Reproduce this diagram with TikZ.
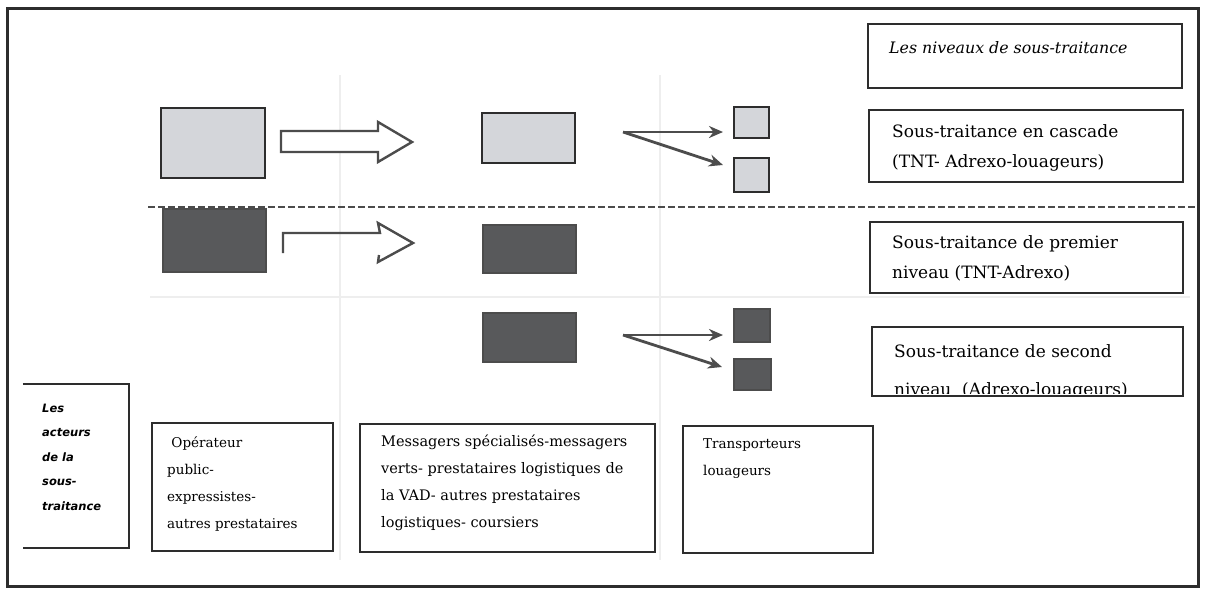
\documentclass[tikz,border=0pt]{standalone}
\usepackage{fontspec}
\setmainfont{DejaVu Serif}
\newfontfamily\actsans{DejaVu Sans}
\usetikzlibrary{arrows.meta}
\definecolor{ink}{RGB}{45,45,45}
\definecolor{paleblock}{RGB}{212,214,218}
\definecolor{darkblock}{RGB}{88,89,91}
\definecolor{gridgray}{RGB}{238,238,238}
\begin{document}
\begin{tikzpicture}[x=1pt,y=-1pt,
  outerframe/.style={draw=ink,line width=3pt},
  labelbox/.style={draw=ink,line width=2.2pt,fill=white,inner sep=0pt},
  pale/.style={draw=ink,line width=2pt,fill=paleblock,inner sep=0pt},
  darkbox/.style={draw=ink!85,line width=2pt,fill=darkblock,inner sep=0pt},
  fanarrow/.style={draw=ink!85,line width=2.8pt,-{Stealth[length=14pt,width=12pt]}},
  bigarrow/.style={draw=ink!85,line width=2.4pt,fill=white,line join=miter},
  openarrow/.style={draw=ink!85,line width=2.4pt,line join=miter},
  separator/.style={draw=ink!85,line width=2.8pt,dash pattern=on 7pt off 3pt},
  faint/.style={draw=gridgray,line width=1.5pt},
  txt/.style={anchor=base west,inner sep=0pt,align=left},
  levelfont/.style={font=\fontsize{17}{30}\selectfont},
  actorfont/.style={font=\fontsize{13.5}{27}\selectfont}]
\useasboundingbox (0,0) rectangle (1206,595);
\fill[white] (0,0) rectangle (1206,595);

% light table rules behind the diagram
\draw[faint] (340,75) -- (340,560);
\draw[faint] (660,75) -- (660,560);
\draw[faint] (150,297) -- (1190,297);

% outer frame
\draw[outerframe] (7,8) rectangle (1198,586);

% level captions on the right (multi-line labels are placed by their last baseline)
\node[labelbox,minimum width=314pt,minimum height=64pt] (r0) at (1025,56) {};
\node[txt,font=\itshape\fontsize{15.8}{18}\selectfont] (r0t) at (889,53) {Les niveaux de sous-traitance};

\node[labelbox,minimum width=314pt,minimum height=72pt] (r1) at (1026,146) {};
\node[txt,levelfont] (r1t) at (892,167) {Sous-traitance en cascade\\(TNT- Adrexo-louageurs)};

\node[labelbox,minimum width=313pt,minimum height=71pt] (r2) at (1026.5,257.5) {};
\node[txt,levelfont] (r2t) at (892,278) {Sous-traitance de premier\\niveau (TNT-Adrexo)};

\node[labelbox,minimum width=311pt,minimum height=69pt] (r3) at (1027.5,361.5) {};
\begin{scope}
  \clip (873,328) rectangle (1182,393);
  \node[txt,font=\fontsize{17}{38}\selectfont] (r3t) at (894,395) {Sous-traitance de second\\niveau \ (Adrexo-louageurs)};
\end{scope}

% cascade row
\node[pale,minimum width=104pt,minimum height=70pt] (a1) at (213,143) {};
\node[pale,minimum width=93pt,minimum height=50pt] (b1) at (528.5,138) {};
\node[pale,minimum width=35pt,minimum height=31pt] (s1) at (751.5,122.5) {};
\node[pale,minimum width=35pt,minimum height=34pt] (s2) at (751.5,175) {};
\draw[bigarrow] (281,131) -- (378,131) -- (378,122) -- (412,142) -- (378,162) -- (378,152) -- (281,152) -- cycle;
\coordinate (fan1) at (623,132);
\coordinate (tip11) at (723,132);
\coordinate (tip12) at (723,165);
\draw[fanarrow] (fan1) -- (tip11);
\draw[fanarrow] (fan1) -- (tip12);

% separator between cascade and direct subcontracting
\draw[separator] (148,207) -- (1196,207);

% first level row
\node[darkbox,minimum width=103pt,minimum height=63pt] (c2) at (214.5,240.5) {};
\node[darkbox,minimum width=93pt,minimum height=48pt] (d2) at (529.5,249) {};
\draw[openarrow] (283,253) -- (283,233) -- (380,233) -- (378,223) -- (413,243) -- (378,262) -- (379,255);

% second level row
\node[darkbox,minimum width=93pt,minimum height=49pt] (e3) at (529.5,337.5) {};
\node[darkbox,minimum width=36pt,minimum height=33pt] (s3) at (752,325.5) {};
\node[darkbox,minimum width=37pt,minimum height=31pt] (s4) at (752.5,374.5) {};
\coordinate (fan2) at (623,335);
\coordinate (tip21) at (723,335);
\coordinate (tip22) at (722,367);
\draw[fanarrow] (fan2) -- (tip21);
\draw[fanarrow] (fan2) -- (tip22);

% actors along the bottom
\node[inner sep=0pt,minimum width=106pt,minimum height=164pt] (act) at (76,466) {};
\draw[ink,line width=2.2pt] (act.north west) -- (act.north east) -- (act.south east) -- (act.south west);
\node[txt,font=\actsans\bfseries\itshape\fontsize{11.5}{24.5}\selectfont] (actt) at (42,510) {Les\\acteurs\\de la\\sous-\\traitance};

\node[labelbox,minimum width=181pt,minimum height=128pt] (op) at (242.5,487) {};
\node[txt,actorfont] (opt) at (167,528) {\ Opérateur\\public-\\expressistes-\\autres prestataires};

\node[labelbox,minimum width=295pt,minimum height=128pt] (msg) at (507.5,488) {};
\node[txt,font=\fontsize{14.5}{26.7}\selectfont] (msgt) at (381,527) {Messagers spécialisés-messagers\\verts- prestataires logistiques de\\la VAD- autres prestataires\\logistiques- coursiers};

\node[labelbox,minimum width=190pt,minimum height=127pt] (trp) at (778,489.5) {};
\node[txt,actorfont] (trpt) at (703,475) {Transporteurs\\louageurs};
\end{tikzpicture}
\end{document}
